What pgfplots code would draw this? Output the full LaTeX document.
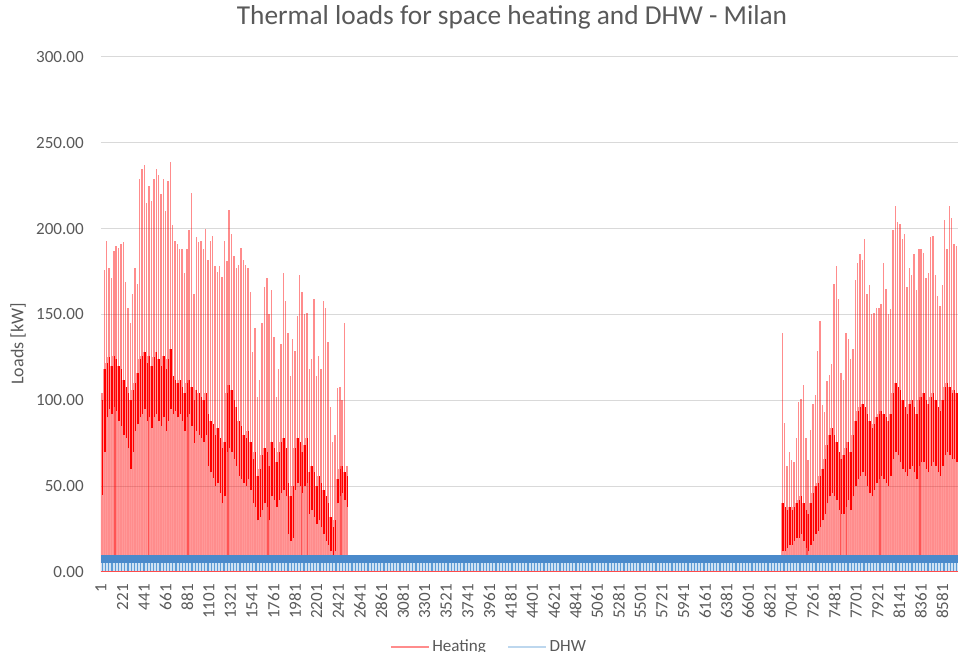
\documentclass[border=0pt]{standalone}
\usepackage{fontspec}
\setmainfont{Carlito}
\usepackage{pgfplots}
\pgfplotsset{compat=1.18}
\usepackage{pgfplotstable}
\usetikzlibrary{patterns.meta}
\definecolor{txt}{HTML}{595959}
\definecolor{gridc}{HTML}{D9D9D9}
\definecolor{heat}{HTML}{FF0000}
\definecolor{dhw}{HTML}{5B9BD5}
\definecolor{dhwdark}{HTML}{4A8ACB}
\definecolor{dhwpale}{HTML}{CFE2F3}
\pgfkeys{/pgf/number format/assume math mode=true}

% day, daily peak, upper and lower edge of the dense band (kW)
\pgfplotstableread{
d peak hi lo
1 104 100 45
2 176 118 70
3 193 122 90
4 177 125 95
5 171 120 92
6 187 126 96
7 190 124 94
8 189 120 88
9 191 118 85
10 192 112 80
11 169 108 78
12 154 104 72
13 145 100 60
14 162 106 70
15 177 110 82
16 168 116 86
17 229 124 90
18 235 126 92
19 237 128 95
20 215 122 88
21 225 126 90
22 216 120 84
23 229 125 90
24 235 128 92
25 231 124 88
26 220 120 85
27 229 126 90
28 210 118 82
29 228 124 88
30 239 130 95
31 202 114 92
32 193 112 94
33 191 110 90
34 188 112 92
35 188 108 88
36 174 104 82
37 188 110 90
38 199 112 92
39 221 108 85
40 162 100 75
41 195 106 82
42 192 104 80
43 193 102 78
44 188 100 76
45 200 104 80
46 182 92 62
47 193 88 58
48 196 86 55
49 178 80 50
50 175 84 52
51 178 78 46
52 172 72 40
53 193 76 44
54 181 104 70
55 211 109 72
56 197 106 70
57 184 100 66
58 177 96 62
59 179 88 56
60 189 85 54
61 182 80 52
62 179 78 50
63 177 82 54
64 163 76 48
65 128 66 40
66 142 70 38
67 102 56 30
68 112 60 32
69 145 68 36
70 166 72 40
71 171 70 38
72 150 62 30
73 164 76 44
74 137 72 42
75 102 64 38
76 118 70 42
77 133 76 46
78 174 78 48
79 158 72 44
80 139 52 22
81 114 44 18
82 136 50 20
83 129 72 48
84 149 78 52
85 173 76 50
86 163 70 46
87 150 74 50
88 151 78 52
89 118 58 34
90 124 62 36
91 159 58 32
92 114 50 28
93 126 56 30
94 118 52 26
95 158 48 22
96 154 44 18
97 134 40 16
98 96 32 12
99 76 26 8
100 80 30 12
101 107 54 40
102 108 60 44
103 100 62 46
104 145 58 42
105 62 56 38
290 139 40 12
291 87 38 12
292 62 36 14
293 70 38 16
294 65 36 16
295 64 38 18
296 78 40 20
297 99 42 20
298 101 44 22
299 109 40 18
300 78 36 14
301 65 34 12
302 83 40 16
303 98 46 18
304 103 50 22
305 129 52 24
306 146 56 26
307 97 60 30
308 93 66 34
309 111 74 40
310 115 80 44
311 121 84 46
312 168 80 44
313 178 76 42
314 159 70 36
315 116 66 34
316 112 68 34
317 139 72 38
318 136 76 42
319 124 70 36
320 130 80 44
321 170 88 50
322 180 94 54
323 185 96 56
324 182 98 58
325 194 96 56
326 162 92 50
327 167 88 46
328 150 84 44
329 151 86 48
330 154 90 52
331 154 92 54
332 156 94 56
333 180 92 54
334 165 90 52
335 150 88 50
336 153 92 56
337 199 104 66
338 213 110 70
339 204 108 68
340 203 106 64
341 194 100 60
342 197 96 58
343 166 92 56
344 177 98 60
345 173 100 62
346 185 96 58
347 164 92 54
348 188 100 62
349 188 102 64
350 186 104 64
351 171 100 60
352 174 98 58
353 195 102 62
354 196 104 64
355 173 100 62
356 161 96 58
357 155 94 56
358 167 100 62
359 205 108 68
360 188 110 70
361 213 108 68
362 206 104 66
363 191 106 66
364 190 104 64
365 200 100 60
}\heat

\begin{document}
\begin{tikzpicture}
\begin{axis}[
  at={(0,0)}, anchor=south west,
  scale only axis, width=644.25pt, height=386.25pt,
  xmin=1, xmax=8760, ymin=0, ymax=300,
  axis line style={draw=none},
  major tick length=0pt,
  ymajorgrids, grid style={gridc, line width=0.75pt},
  ytick={0,50,...,300},
  yticklabel={\pgfmathprintnumber[fixed,fixed zerofill,precision=2]{\tick}},
  yticklabel style={font=\fontsize{12.8pt}{15pt}\selectfont, text=txt, inner xsep=12.75pt},
  scaled x ticks=false,
  xtick={1,221,...,8581},
  xticklabels={1,221,441,661,881,1101,1321,1541,1761,1981,2201,2421,2641,2861,3081,3301,3521,3741,3961,4181,4401,4621,4841,5061,5281,5501,5721,5941,6161,6381,6601,6821,7041,7261,7481,7701,7921,8141,8361,8581},
  xticklabel style={rotate=90, anchor=east, inner xsep=9pt, font=\fontsize{12.8pt}{15pt}\selectfont, text=txt},
  ylabel={Loads [kW]},
  ylabel style={at={(axis description cs:-0.0966,0.443)}, anchor=center, font=\fontsize{13.5pt}{16pt}\selectfont, text=txt},
  title={Thermal loads for space heating and DHW - Milan},
  title style={at={(axis description cs:0.4785,1.0466)}, anchor=base, font=\fontsize{20.5pt}{24pt}\selectfont, text=txt},
  legend columns=2,
  legend style={draw=none, fill=none, at={(axis description cs:0.452,-0.1456)}, anchor=center,
    font=\fontsize{12.8pt}{15pt}\selectfont, text=txt,
    /tikz/every even column/.append style={column sep=14pt}},
  legend image code/.code={\draw[#1] (0pt,0pt) -- (28.5pt,0pt);},
]
\addlegendimage{heat!45, line width=1.3pt}
\addlegendentry{Heating}
\addlegendimage{dhw!40, line width=1.3pt}
\addlegendentry{DHW}

% Heating: daily peaks
\addplot[forget plot, ycomb, heat, opacity=0.45, line width=1.05pt, mark=none]
  table[x expr=\thisrow{d}*24-12, y=peak] {\heat};
% Heating: other hours of the day
\addplot[forget plot, ycomb, heat, opacity=0.4, line width=0.8pt, mark=none]
  table[x expr=\thisrow{d}*24-24, y=hi] {\heat};
% Heating: dense daytime band
\addplot[forget plot, draw=none, mark=none,
  error bars/.cd, y dir=plus, y explicit, error mark=none,
  error bar style={line width=1pt, draw=heat}]
  table[x expr=\thisrow{d}*24-6, y=lo, y error expr=\thisrow{hi}-\thisrow{lo}] {\heat};

% DHW
\addplot[forget plot, draw=none, fill=dhwdark] coordinates {(1,9.9) (8760,9.9)} \closedcycle;
\addplot[forget plot, draw=none, fill=dhwpale] coordinates {(1,5.2) (8760,5.2)} \closedcycle;
\addplot[forget plot, draw=none, pattern={Lines[angle=90,distance=2.4pt,line width=0.8pt]}, pattern color=dhw]
  coordinates {(1,5.2) (8760,5.2)} \closedcycle;

% Heating zero line
\addplot[forget plot, heat!70, line width=1.5pt] coordinates {(1,0) (8760,0)};
\end{axis}
\pgfresetboundingbox
\useasboundingbox (-75.75pt,-60pt) rectangle (642.75pt,429pt);
\end{tikzpicture}
\end{document}
